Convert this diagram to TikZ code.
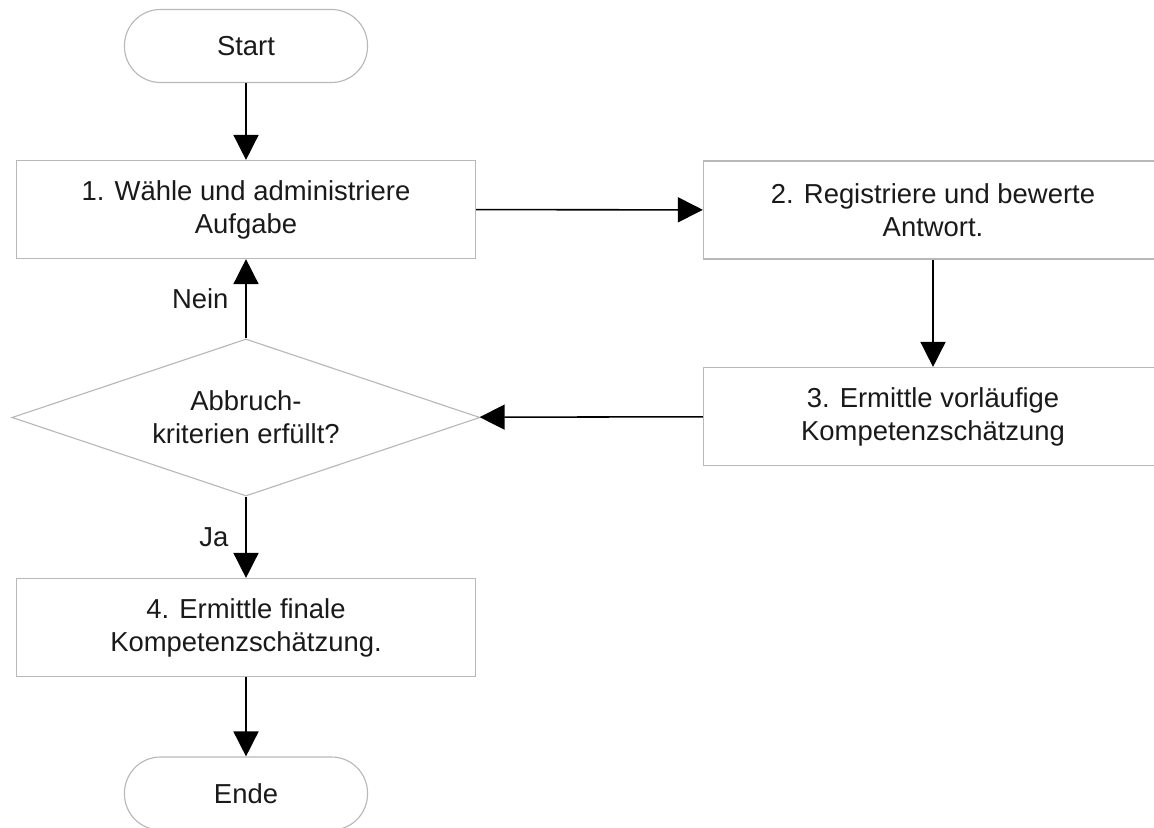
\documentclass[tikz,border=0pt]{standalone}
\usepackage{fontspec}
\setmainfont{Liberation Sans}
\usetikzlibrary{arrows.meta,shapes.geometric}
\definecolor{Frame}{HTML}{B8B8B8}
\definecolor{Ink}{HTML}{1A1A1A}

\begin{document}
\begin{tikzpicture}[x=0.025cm,y=-0.025cm,
  font=\fontsize{19.5}{23.5}\selectfont, text=Ink,
  stepbox/.style={draw=Frame, line width=0.8pt, fill=white, minimum width=11.475cm, minimum height=2.45cm, align=center},
  terminal/.style={draw=Frame, line width=0.8pt, fill=white, rounded corners=0.9cm, minimum width=6.075cm, minimum height=1.825cm},
  query/.style={draw=Frame, line width=0.8pt, fill=white, diamond, aspect=3, inner sep=0pt, minimum width=11.7cm, minimum height=3.925cm, align=center},
  flow/.style={draw=black, line width=1.1pt, -{Triangle[length=6.25mm,width=6.25mm]}},
  answer/.style={anchor=east, inner sep=0pt, xshift=-0.42cm}]
\clip (0,0) rectangle (1154,827);
\node[terminal] (start) at (246,46){Start};
\node[stepbox] (b1) at (246,209.5){1. Wähle und administriere\\Aufgabe};
\node[stepbox] (b2) at (933,210){2. Registriere und bewerte\\Antwort.};
\node[stepbox] (b3) at (933,416.5){3. Ermittle vorläufige\\Kompetenzschätzung};
\node[query] (dec) at (246,417.5){Abbruch-\\kriterien erfüllt?};
\node[stepbox] (b4) at (246,627.5){4. Ermittle finale\\Kompetenzschätzung.};
\node[terminal] (ende) at (246,793.5){Ende};
% Ablauf
\draw[flow] (start) -- (b1);
\draw[flow] (b1) -- (b2);
\draw[flow] (b2) -- (b3);
\draw[flow] (b3) -- (dec);
\draw[flow] (dec) -- node[answer]{Nein} (b1);
\draw[flow] (dec) -- node[answer]{Ja} (b4);
\draw[flow] (b4) -- (ende);
\end{tikzpicture}
\end{document}
